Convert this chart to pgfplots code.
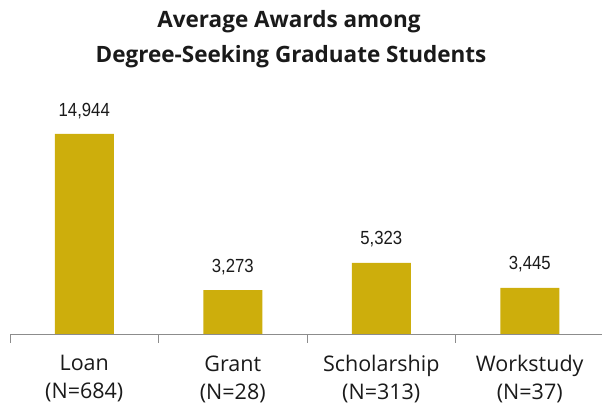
\documentclass[border=0pt]{standalone}
\usepackage{fontspec}
\setmainfont{Open Sans}
\newfontfamily\numfont[FakeStretch=0.88]{Liberation Sans}
\usepackage{pgfplots}
\pgfplotsset{compat=1.18}
\definecolor{bargold}{HTML}{CDAE0C}
\definecolor{axisgray}{HTML}{8C8C8C}
\definecolor{txt}{HTML}{1A1A1A}
\begin{document}
\begin{tikzpicture}[x=1pt,y=1pt]
\useasboundingbox (0,0) rectangle (602,406);
\node[font=\fontsize{22.5}{26}\selectfont\bfseries, text=txt] at (289,384) {Average Awards among};
\node[font=\fontsize{22.5}{26}\selectfont\bfseries, text=txt] at (291,349) {Degree-Seeking Graduate Students};
\begin{axis}[
  at={(10pt,72pt)}, anchor=south west,
  scale only axis, width=594pt, height=200pt,
  ybar, bar width=59pt,
  xmin=-0.5, xmax=3.5,
  ymin=0, ymax=14944,
  axis x line*=bottom,
  hide y axis,
  clip=false,
  xtick={0,1,2,3},
  xticklabels={{Loan\\(N=684)},{Grant\\(N=28)},{Scholarship\\(N=313)},{Workstudy\\(N=37)}},
  major tick length=0pt,
  minor xtick={-0.5,0.5,1.5,2.5,3.5},
  minor tick length=9pt,
  tick align=outside,
  x axis line style={draw=axisgray},
  xtick style={draw=axisgray},
  minor tick style={draw=axisgray},
  xticklabel style={align=center, font=\fontsize{21.5}{28}\selectfont, text=txt, anchor=north, yshift=-18pt},
  nodes near coords,
  /pgf/number format/assume math mode=true,
  /pgf/number format/1000 sep={,},
  every node near coord/.append style={font=\numfont\fontsize{19}{20}\selectfont, text=txt, anchor=south, yshift=12pt},
]
\addplot[fill=bargold, draw=none] coordinates {(0,14944) (1,3273) (2,5323) (3,3445)};
\end{axis}
\end{tikzpicture}
\end{document}
